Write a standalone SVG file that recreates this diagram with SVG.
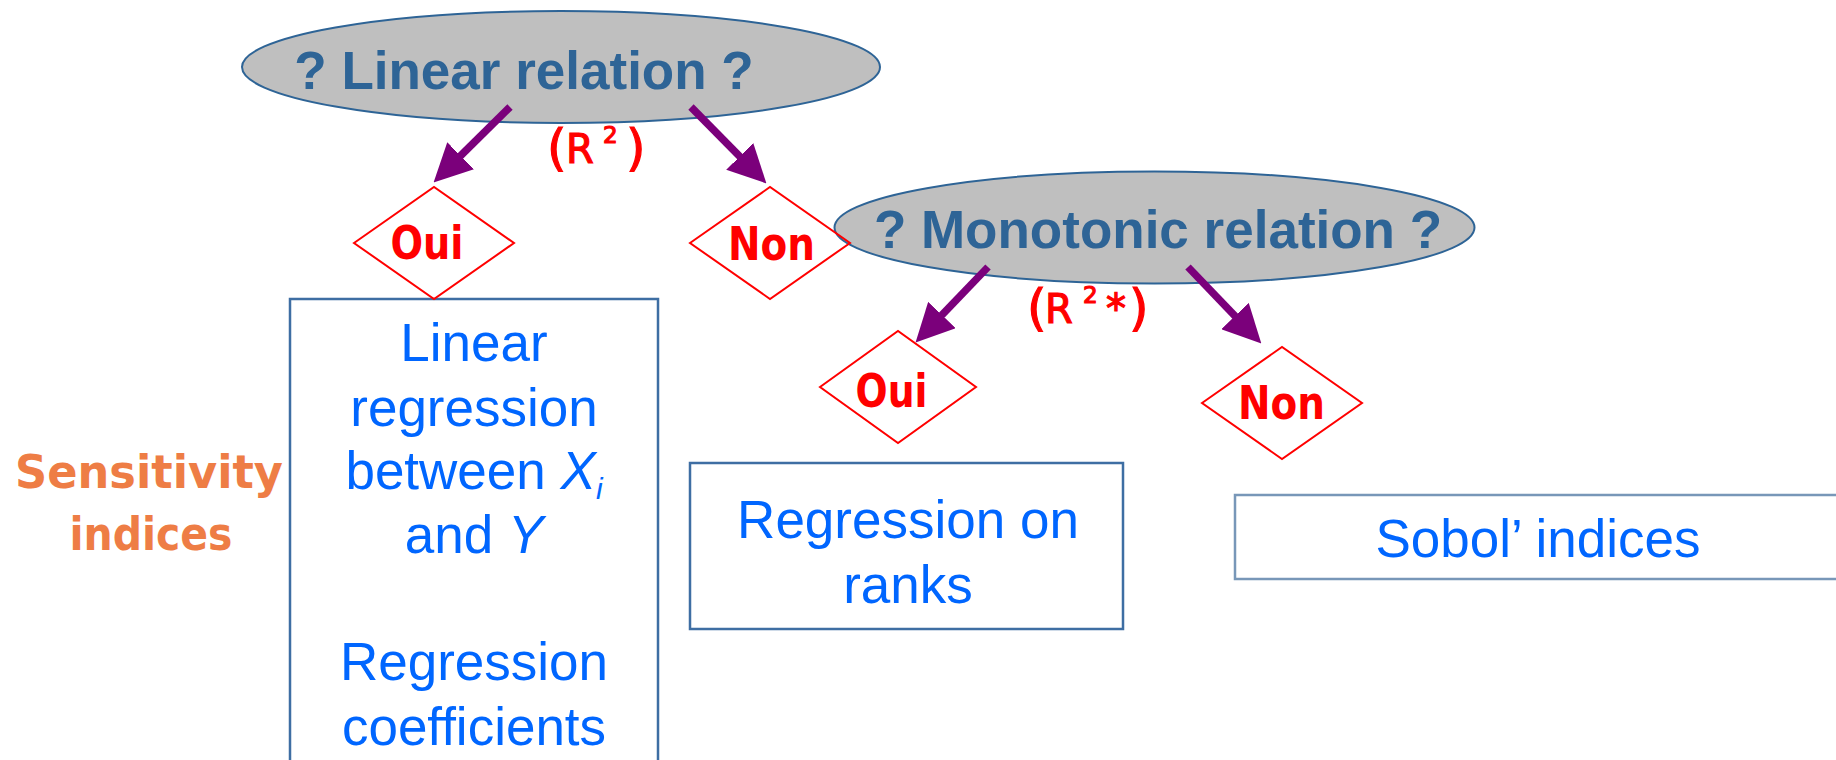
<svg xmlns="http://www.w3.org/2000/svg" width="1836" height="760" viewBox="0 0 1836 760">
<style>
.q{fill:#bfbfbf;stroke:#2e6496;stroke-width:2}
.qt{font-family:"Liberation Sans",Arial,sans-serif;font-weight:bold;font-size:53px;fill:#2e6496;text-anchor:middle}
.dia{fill:none;stroke:#ff0000;stroke-width:2}
.dt{font-family:"DejaVu Sans",sans-serif;font-weight:bold;font-size:47px;fill:#ff0000;text-anchor:middle}
.box{fill:#ffffff;stroke:#3e6ea3;stroke-width:2.5}
.box2{fill:#ffffff;stroke:#7897b8;stroke-width:2.5}
.bt{font-family:"Liberation Sans",Arial,sans-serif;font-size:53px;fill:#0066ff;text-anchor:middle}
.lbl{font-family:"DejaVu Sans",sans-serif;fill:#ff0000;stroke:#ff0000;stroke-width:1.2}
.side{font-family:"DejaVu Sans",sans-serif;font-weight:bold;font-size:46px;fill:#ee7d45;text-anchor:middle}
.arr{stroke:#7b007b;stroke-width:7.5;fill:none;marker-end:url(#ah)}
</style>
<defs>
<marker id="ah" markerUnits="userSpaceOnUse" markerWidth="38" markerHeight="38" viewBox="0 0 37 37" refX="17" refY="18.5" orient="auto">
<path d="M0,0 L37,18.5 L0,37 Z" fill="#7b007b"/>
</marker>
</defs>
<rect width="1836" height="760" fill="#ffffff"/>

<g id="box-linear">
<rect class="box" x="290" y="299" width="368" height="480"/>
<text class="bt" x="474" y="361">Linear</text>
<text class="bt" x="474" y="426">regression</text>
<text class="bt" x="474" y="489">between <tspan font-style="italic">X</tspan><tspan font-style="italic" font-size="30" dy="10">i</tspan></text>
<text class="bt" x="474" y="553">and <tspan font-style="italic">Y</tspan></text>
<text class="bt" x="474" y="680">Regression</text>
<text class="bt" x="474" y="745">coefficients</text>
</g>

<g id="box-ranks">
<rect class="box" x="690" y="463" width="433" height="166"/>
<text class="bt" x="908" y="538">Regression on</text>
<text class="bt" x="908" y="603">ranks</text>
</g>

<g id="box-sobol">
<rect class="box2" x="1235" y="495" width="620" height="84"/>
<text class="bt" x="1538" y="557">Sobol’ indices</text>
</g>

<g id="sensitivity-label">
<text class="side" x="149" y="488" textLength="268" lengthAdjust="spacingAndGlyphs">Sensitivity</text>
<text class="side" x="151" y="550" textLength="163" lengthAdjust="spacingAndGlyphs">indices</text>
</g>

<g id="q-linear">
<ellipse class="q" cx="561" cy="67" rx="319" ry="56"/>
<text class="qt" x="524" y="89">? Linear relation ?</text>
</g>

<g id="q-monotonic">
<ellipse class="q" cx="1154.5" cy="227.5" rx="320" ry="56"/>
<text class="qt" x="1158" y="248">? Monotonic relation ?</text>
</g>

<g id="oui-1">
<polygon class="dia" points="354,243 434,187 514,243 434,299"/>
<text class="dt" x="427" y="259" textLength="73" lengthAdjust="spacingAndGlyphs">Oui</text>
</g>

<g id="non-1">
<polygon class="dia" points="690,243 770,187 850,243 770,299"/>
<text class="dt" x="771.5" y="260" textLength="87" lengthAdjust="spacingAndGlyphs">Non</text>
</g>

<g id="oui-2">
<polygon class="dia" points="820,387 898,331 976,387 898,443"/>
<text class="dt" x="891.5" y="407" textLength="72" lengthAdjust="spacingAndGlyphs">Oui</text>
</g>

<g id="non-2">
<polygon class="dia" points="1202,403 1282,347 1362,403 1282,459"/>
<text class="dt" x="1281.5" y="419" textLength="87" lengthAdjust="spacingAndGlyphs">Non</text>
</g>

<g id="connectors">
<line class="arr" x1="510" y1="107" x2="448.2" y2="168"/>
<line class="arr" x1="691" y1="107" x2="752" y2="168.8"/>
<line class="arr" x1="988" y1="267" x2="929.8" y2="327.6"/>
<line class="arr" x1="1188" y1="267" x2="1247.1" y2="328.6"/>
</g>

<g id="label-r2">
<text class="lbl" font-size="50" x="547" y="165">(</text>
<text class="lbl" font-size="40" x="566" y="163">R</text>
<text class="lbl" font-size="23" x="603" y="143">2</text>
<text class="lbl" font-size="50" x="626" y="165">)</text>
</g>

<g id="label-r2star">
<text class="lbl" font-size="50" x="1027" y="325">(</text>
<text class="lbl" font-size="40" x="1045" y="323">R</text>
<text class="lbl" font-size="23" x="1083" y="303">2</text>
<text class="lbl" font-size="40" x="1106" y="323">*</text>
<text class="lbl" font-size="50" x="1129" y="325">)</text>
</g>
</svg>
